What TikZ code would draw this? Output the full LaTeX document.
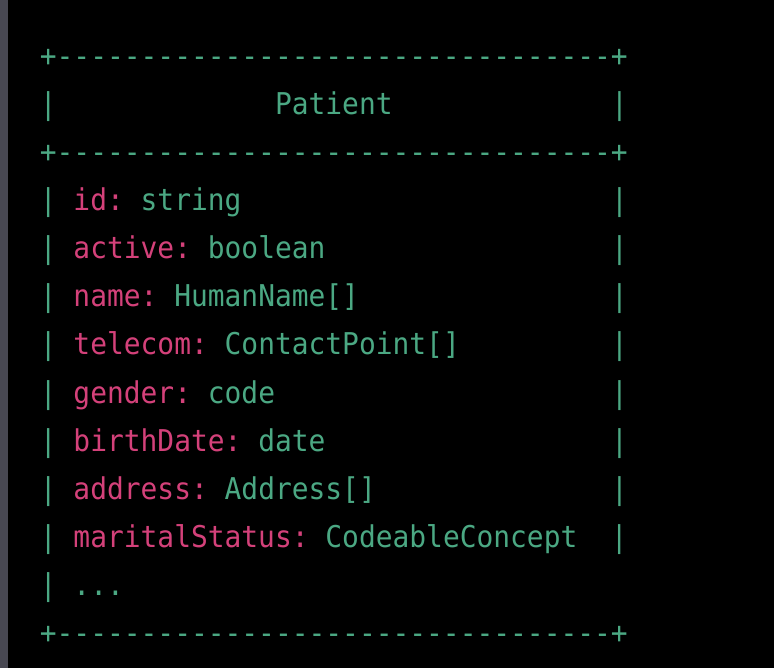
\documentclass[tikz,border=0pt]{standalone}
\usepackage{fontspec}
\newfontfamily\codefont[FakeStretch=0.93]{DejaVu Sans Mono}
\definecolor{valc}{HTML}{4BA883}
\definecolor{keyc}{HTML}{D4417A}
\definecolor{barc}{HTML}{484852}
\newcommand\rep[2]{\foreach \i in {1,...,#1}{#2}}
\newcommand\sps[1]{\rep{#1}{\hphantom{0}}}
\newcommand\dsh{+\rep{33}{\mbox{-}}+}
\newcommand\fld[3]{|\hphantom{0}\textcolor{keyc}{#1:}\hphantom{0}#2\sps{#3}|}
\begin{document}
\begin{tikzpicture}[x=1pt,y=-1pt,
  codeline/.style={anchor=base west, inner sep=0pt, outer sep=0pt,
    font=\codefont\fontsize{30}{36}\selectfont\frenchspacing, text=valc}]
\useasboundingbox (0,0) rectangle (774,668);
\fill[black] (0,0) rectangle (774,668);
\fill[barc] (0,0) rectangle (8,668);
\node[codeline] (r0) at (39.9,67) {\dsh};
\node[codeline] (r1) at (39.9,115) {|\sps{13}Patient\sps{13}|};
\node[codeline] (r2) at (39.9,163) {\dsh};
\node[codeline] (r3) at (39.9,211) {\fld{id}{string}{22}};
\node[codeline] (r4) at (39.9,259) {\fld{active}{boolean}{17}};
\node[codeline] (r5) at (39.9,307) {\fld{name}{HumanName[]}{15}};
\node[codeline] (r6) at (39.9,355) {\fld{telecom}{ContactPoint[]}{9}};
\node[codeline] (r7) at (39.9,403) {\fld{gender}{code}{20}};
\node[codeline] (r8) at (39.9,451) {\fld{birthDate}{date}{17}};
\node[codeline] (r9) at (39.9,499) {\fld{address}{Address[]}{14}};
\node[codeline] (r10) at (39.9,547) {\fld{maritalStatus}{CodeableConcept}{2}};
\node[codeline] (r11) at (39.9,595) {|\hphantom{0}...};
\node[codeline] (r12) at (39.9,643) {\dsh};
\end{tikzpicture}
\end{document}
